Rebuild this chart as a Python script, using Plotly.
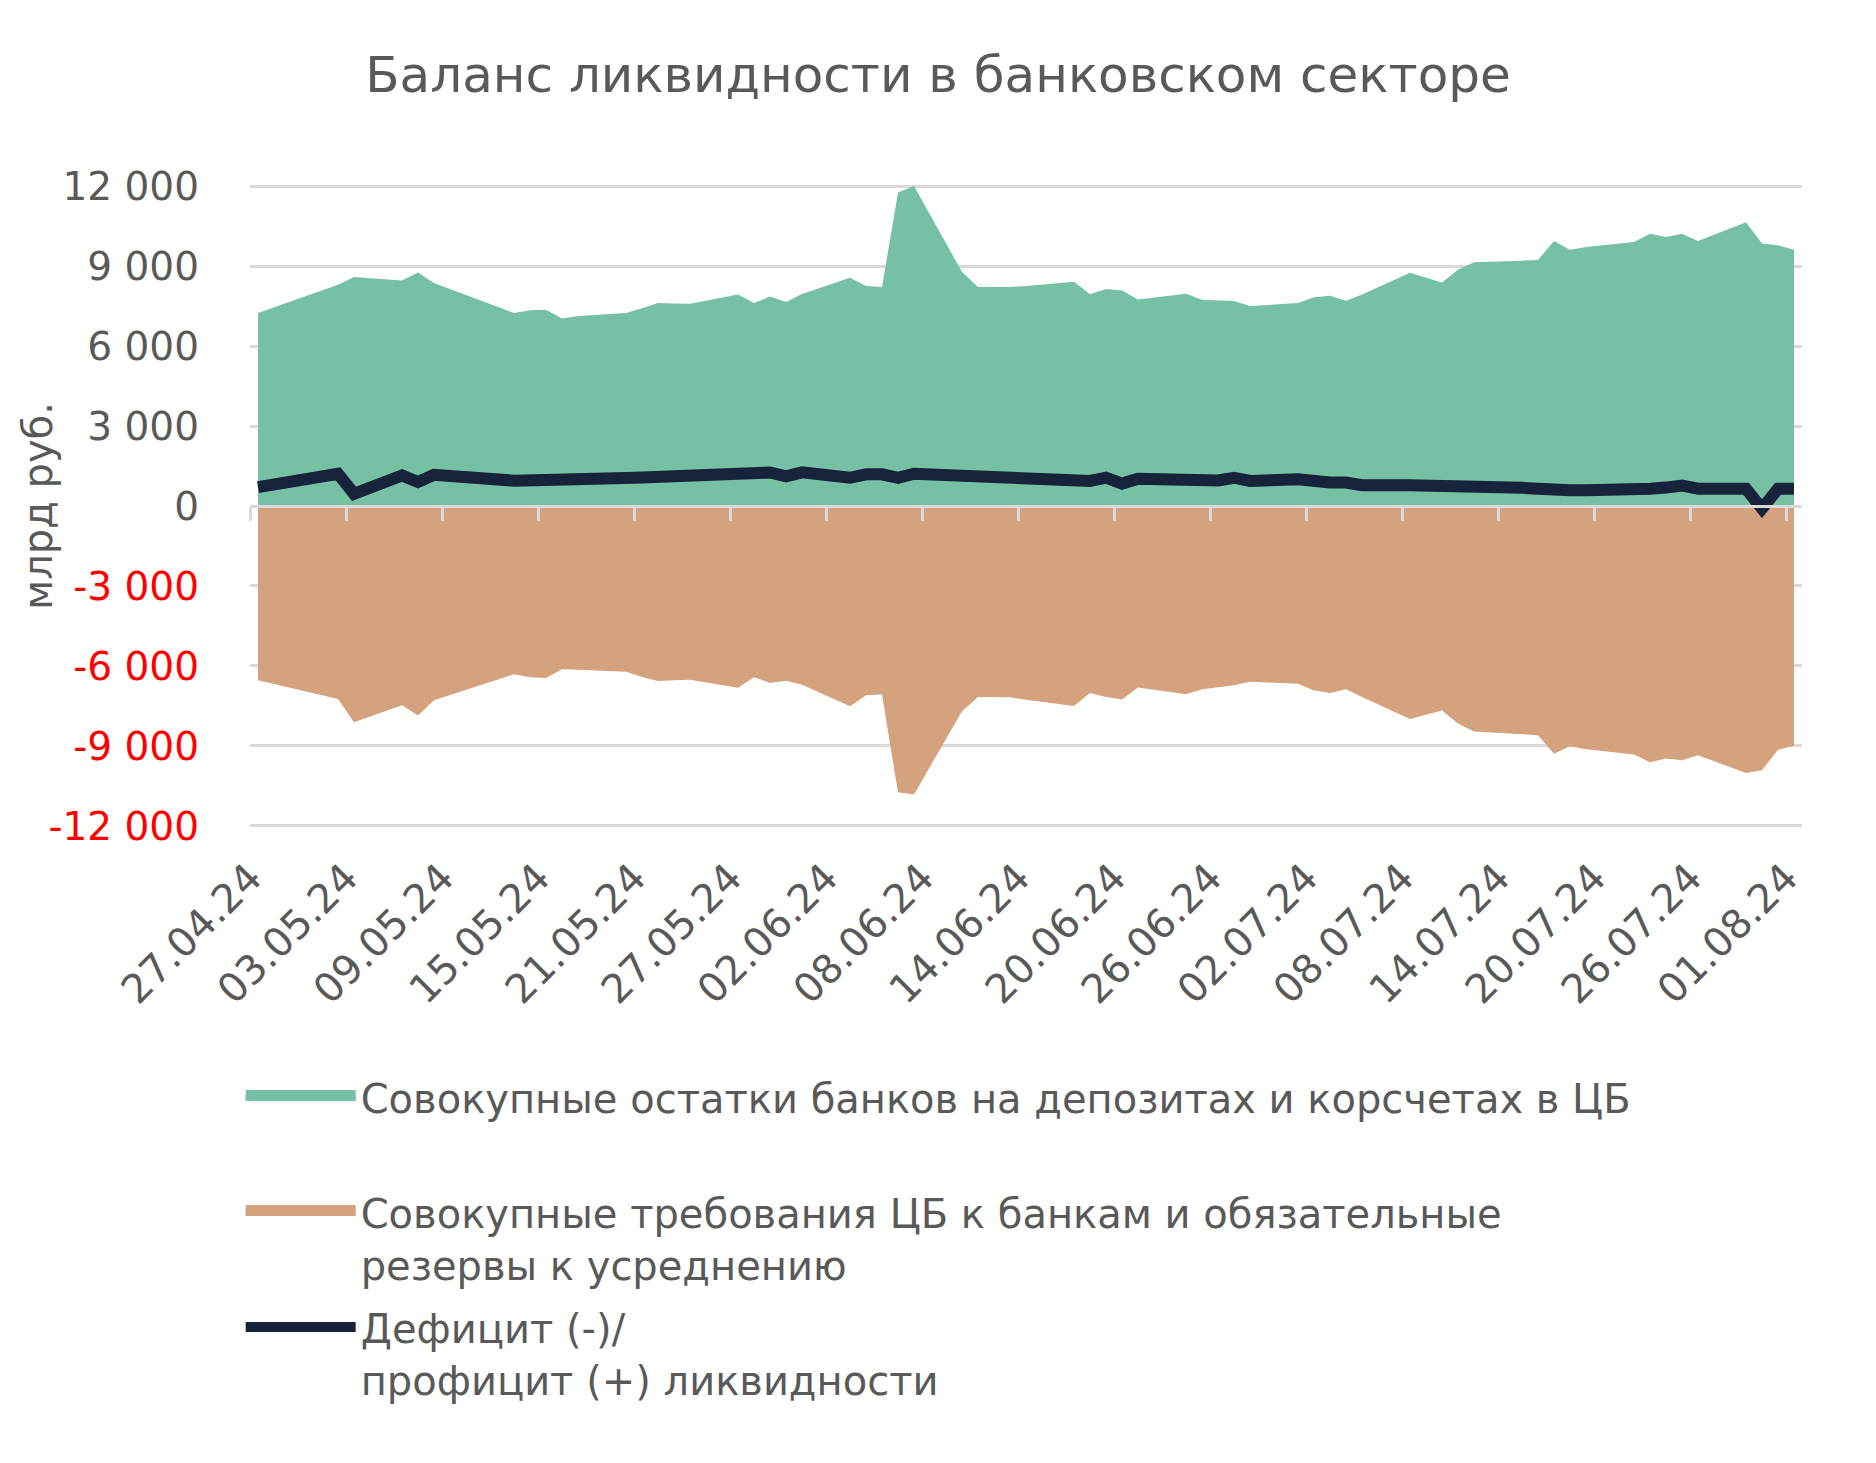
import plotly.graph_objects as go
import pandas as pd

FONT = "DejaVu Sans"
TEXT = "#595959"

dates = [
    "2024-04-27", "2024-05-02", "2024-05-03", "2024-05-06", "2024-05-07", "2024-05-08",
    "2024-05-13", "2024-05-14", "2024-05-15", "2024-05-16", "2024-05-17",
    "2024-05-20", "2024-05-21", "2024-05-22", "2024-05-23", "2024-05-24",
    "2024-05-27", "2024-05-28", "2024-05-29", "2024-05-30", "2024-05-31",
    "2024-06-03", "2024-06-04", "2024-06-05", "2024-06-06", "2024-06-07",
    "2024-06-10", "2024-06-11", "2024-06-13", "2024-06-14",
    "2024-06-17", "2024-06-18", "2024-06-19", "2024-06-20", "2024-06-21",
    "2024-06-24", "2024-06-25", "2024-06-26", "2024-06-27", "2024-06-28",
    "2024-07-01", "2024-07-02", "2024-07-03", "2024-07-04", "2024-07-05",
    "2024-07-08", "2024-07-09", "2024-07-10", "2024-07-11", "2024-07-12",
    "2024-07-15", "2024-07-16", "2024-07-17", "2024-07-18", "2024-07-19",
    "2024-07-22", "2024-07-23", "2024-07-24", "2024-07-25", "2024-07-26",
    "2024-07-29", "2024-07-30", "2024-07-31", "2024-08-01",
]

# Совокупные остатки банков на депозитах и корсчетах в ЦБ
balances = [
    7240, 8300, 8590, 8460, 8760, 8360,
    7240, 7340, 7360, 7030, 7130,
    7240, 7420, 7610, 7600, 7590,
    7930, 7610, 7860, 7650, 7950,
    8560, 8250, 8210, 11760, 12000,
    8780, 8210, 8210, 8250,
    8410, 7940, 8140, 8080, 7750,
    7960, 7740, 7710, 7690, 7500,
    7610, 7830, 7890, 7700, 7930,
    8750, 8570, 8380, 8860, 9140,
    9200, 9230, 9940, 9610, 9710,
    9900, 10210, 10090, 10210, 9940,
    10640, 9850, 9780, 9610,
]

# Совокупные требования ЦБ к банкам и обязательные резервы к усреднению
claims = [
    -6540, -7240, -8110, -7470, -7860, -7290,
    -6310, -6420, -6450, -6120, -6140,
    -6220, -6410, -6560, -6540, -6520,
    -6820, -6420, -6640, -6550, -6700,
    -7510, -7100, -7070, -10740, -10820,
    -7700, -7160, -7170, -7270,
    -7500, -7010, -7160, -7260, -6810,
    -7060, -6870, -6800, -6720, -6590,
    -6670, -6920, -7010, -6870, -7160,
    -7990, -7820, -7670, -8160, -8460,
    -8560, -8600, -9290, -9010, -9120,
    -9320, -9610, -9470, -9540, -9350,
    -10010, -9910, -9140, -8990,
]

# Дефицит (-)/профицит (+) ликвидности
liquidity = [
    710, 1210, 460, 1150, 900, 1170,
    950, 950, 1000, 940, 960,
    1050, 1070, 1090, 1110, 1120,
    1170, 1240, 1260, 1110, 1260,
    1060, 1190, 1190, 1060, 1210,
    1140, 1110, 1090, 1060,
    940, 940, 1060, 840, 1020,
    960, 960, 960, 1060, 940,
    1000, 900, 880, 880, 780,
    780, 780, 700, 710, 690,
    680, 650, 590, 590, 590,
    560, 650, 690, 770, 650,
    650, -100, 650, 650,
]

y_ticks = [12000, 9000, 6000, 3000, 0, -3000, -6000, -9000, -12000]

names = [
    "Совокупные остатки банков на депозитах и корсчетах в ЦБ",
    "Совокупные требования ЦБ к банкам и обязательные<br>резервы к усреднению",
    "Дефицит (-)/<br>профицит (+) ликвидности",
]

GREEN = "#76C1A3"
ORANGE = "#D4A27D"
NAVY = "#17223B"

x = pd.to_datetime(dates) + pd.Timedelta(hours=12)
tick_dates = pd.date_range("2024-04-27", "2024-08-01", freq="6D")


def fmt(v):
    s = f"{v:,}".replace(",", " ")
    if v < 0:
        return f"<span style='color:#FF0000'>{s}</span>"
    return s


fig = go.Figure()

fig.add_trace(go.Scatter(x=x, y=balances, mode="lines", fill="tozeroy",
                         fillcolor=GREEN, line=dict(width=0, color=GREEN),
                         showlegend=False, hoverinfo="skip"))
fig.add_trace(go.Scatter(x=x, y=claims, mode="lines", fill="tozeroy",
                         fillcolor=ORANGE, line=dict(width=0, color=ORANGE),
                         showlegend=False, hoverinfo="skip"))
fig.add_trace(go.Scatter(x=x, y=liquidity, mode="lines", xaxis="x2",
                         line=dict(width=12, color=NAVY),
                         name=names[2], legend="legend3"))

# legend entries for the area series
fig.add_trace(go.Scatter(x=[None], y=[None], mode="lines", fill="toself",
                         fillcolor=GREEN, line=dict(width=10, color=GREEN),
                         name=names[0], legend="legend"))
fig.add_trace(go.Scatter(x=[None], y=[None], mode="lines", fill="toself",
                         fillcolor=ORANGE, line=dict(width=10, color=ORANGE),
                         name=names[1], legend="legend2"))

legend_common = dict(xanchor="left", yanchor="middle", valign="top",
                     itemwidth=110, bgcolor="rgba(0,0,0,0)",
                     font=dict(family=FONT, size=40, color=TEXT))

x_range = ["2024-04-27", "2024-08-02"]

fig.update_layout(
    width=1876, height=1463,
    margin=dict(l=250, r=74, t=185, b=636),
    paper_bgcolor="white", plot_bgcolor="white",
    font=dict(family=FONT, color=TEXT),
    title=dict(text="Баланс ликвидности в банковском секторе",
               x=0.5, xref="container", xanchor="center",
               y=1 - 74 / 1463, yref="container", yanchor="middle",
               font=dict(family=FONT, size=50, color=TEXT)),
    xaxis=dict(type="date", range=x_range, tickvals=tick_dates,
               tickformat="%d.%m.%y", tickangle=-45, showgrid=False,
               zeroline=False, showline=False, ticks="",
               ticklabelstandoff=18,
               tickfont=dict(family=FONT, size=40, color=TEXT)),
    xaxis2=dict(type="date", overlaying="x", matches="x", anchor="free",
                position=0.5, side="bottom", tickvals=tick_dates,
                showticklabels=False, showgrid=False, zeroline=False,
                showline=True, linecolor="#D9D9D9", linewidth=3,
                ticks="outside", ticklen=13, tickwidth=3, tickcolor="#D9D9D9"),
    yaxis=dict(range=[-12040, 12040], tickvals=y_ticks,
               ticktext=[fmt(v) for v in y_ticks],
               showgrid=True, gridcolor="#D9D9D9", gridwidth=3,
               zeroline=False, showline=False, ticks="",
               ticklabelstandoff=50,
               tickfont=dict(family=FONT, size=39, color=TEXT)),
    legend=dict(x=-0.006, y=(827 - 1097) / 642, **legend_common),
    legend2=dict(x=-0.006, y=(827 - 1238) / 642, **legend_common),
    legend3=dict(x=-0.006, y=(827 - 1353) / 642, **legend_common),
    annotations=[dict(text="млрд руб.", textangle=-90, showarrow=False,
                      xref="paper", yref="paper", x=(38 - 250) / 1552, y=0.5,
                      xanchor="center", yanchor="middle",
                      font=dict(family=FONT, size=40, color=TEXT))],
)

fig.write_html("out.html")
